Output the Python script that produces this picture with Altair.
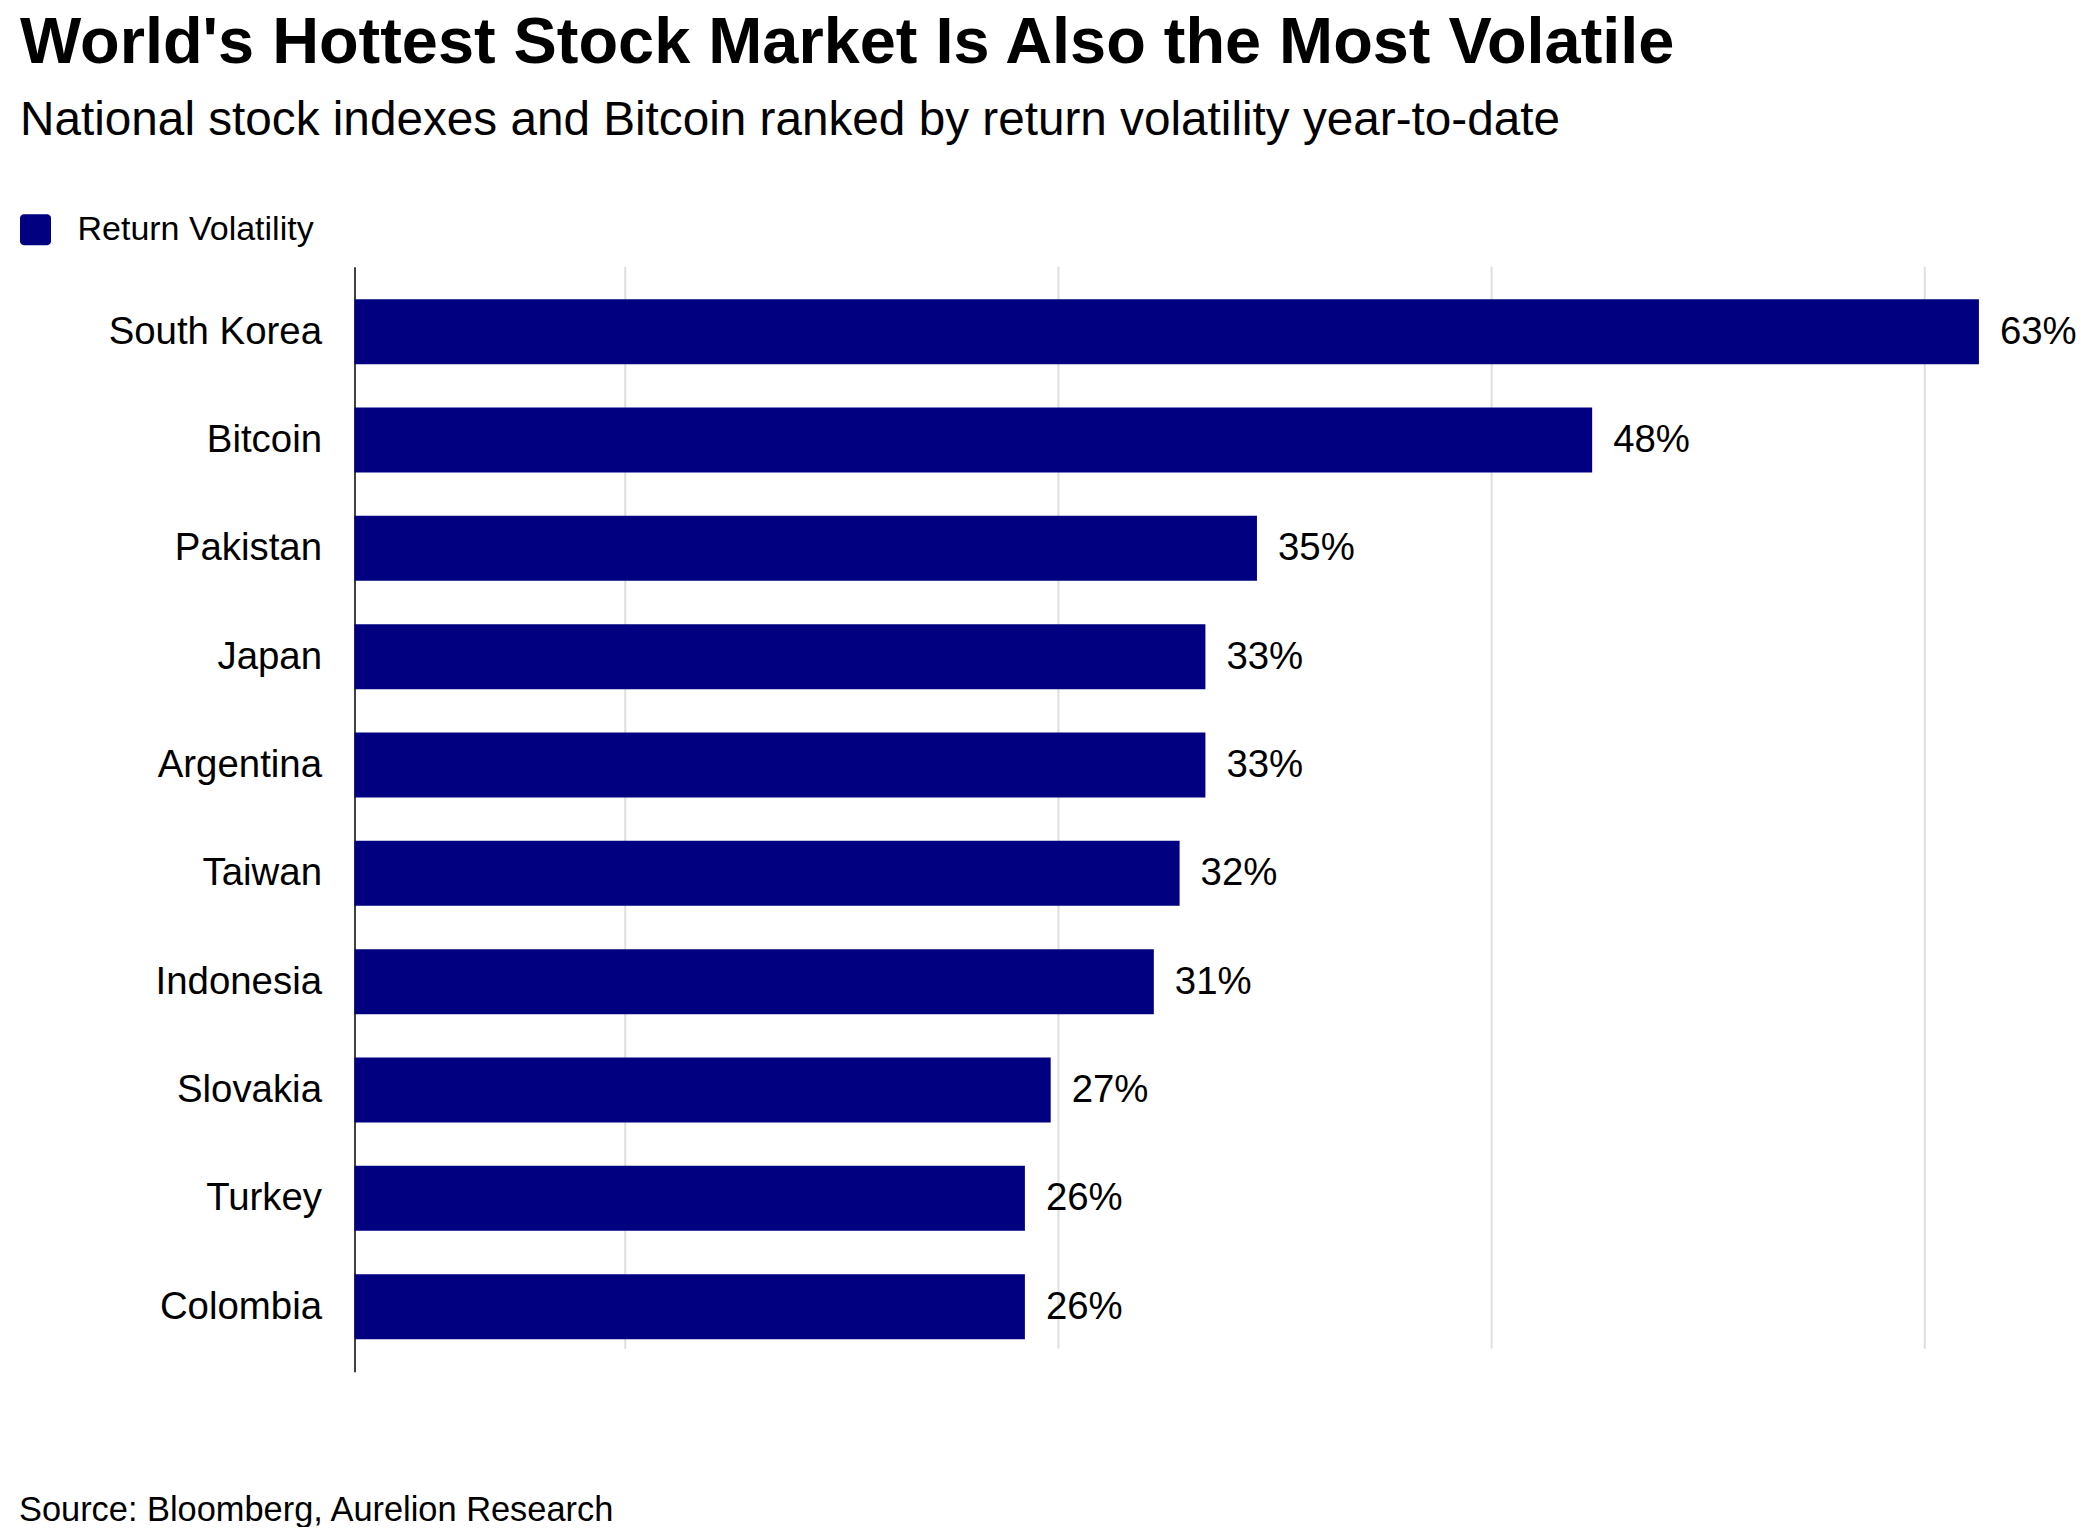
import altair as alt
import pandas as pd

# ---- data ----
categories = ["South Korea", "Bitcoin", "Pakistan", "Japan", "Argentina",
              "Taiwan", "Indonesia", "Slovakia", "Turkey", "Colombia"]
volatility = [63, 48, 35, 33, 33, 32, 31, 27, 26, 26]
series_name = "Return Volatility"
grid_values = [10.5, 27.3, 44.1, 60.9]
title_text = "World's Hottest Stock Market Is Also the Most Volatile"
subtitle_text = "National stock indexes and Bitcoin ranked by return volatility year-to-date"
source_text = ["Source: Bloomberg, Aurelion Research"]

FONT = "Liberation Sans"
NAVY = "#000080"

df = pd.DataFrame({"Market": categories, "Volatility": volatility})
df["Series"] = series_name
df["Label"] = [f"{v}%" for v in volatility]
grid_df = pd.DataFrame({"g": grid_values})
src_df = pd.DataFrame({"t": source_text})

PLOT_W = 1676
PLOT_H = 1105
x_scale = alt.Scale(domain=[0, 65], nice=False, zero=True)

y_enc = alt.Y(
    "Market:N", sort=categories,
    scale=alt.Scale(paddingInner=0.4, paddingOuter=0.3),
    axis=alt.Axis(title=None, domain=True, domainColor="black", domainWidth=1.5,
                  ticks=False, tickSize=0, grid=False, labelFont=FONT,
                  labelFontSize=38.4, labelColor="black", labelPadding=33,
                  labelLimit=0),
)

rounded_square = ("M-0.75,-1 L0.75,-1 A0.25,0.25 0 0 1 1,-0.75 L1,0.75 "
                  "A0.25,0.25 0 0 1 0.75,1 L-0.75,1 A0.25,0.25 0 0 1 -1,0.75 "
                  "L-1,-0.75 A0.25,0.25 0 0 1 -0.75,-1 Z")

grid = alt.Chart(grid_df).mark_rule(color="#dedede", strokeWidth=2).encode(
    x=alt.X("g:Q", scale=x_scale, axis=None),
    y=alt.value(0),
    y2=alt.value(1082),
)

bars = alt.Chart(df).mark_bar().encode(
    x=alt.X("Volatility:Q", scale=x_scale, axis=None),
    y=y_enc,
    color=alt.Color(
        "Series:N",
        scale=alt.Scale(domain=[series_name], range=[NAVY]),
        legend=alt.Legend(
            orient="none", legendX=-336, legendY=-54, title=None,
            symbolType=rounded_square, symbolSize=961, symbolStrokeWidth=0,
            labelFont=FONT, labelFontSize=34, labelColor="black",
            labelOffset=25, labelLimit=0, padding=0,
        ),
    ),
)

labels = alt.Chart(df).mark_text(
    align="left", baseline="middle", dx=21, font=FONT, fontSize=38.4, color="black"
).encode(
    x=alt.X("Volatility:Q", scale=x_scale, axis=None),
    y=alt.Y("Market:N", sort=categories),
    text="Label:N",
)

source = alt.Chart(src_df).mark_text(
    align="left", baseline="alphabetic", font=FONT, fontSize=34.4, color="black"
).encode(
    x=alt.value(-335.5),
    y=alt.value(1254),
    text="t:N",
)

chart = alt.layer(grid, bars, labels, source).properties(
    width=PLOT_W,
    height=PLOT_H,
    title=alt.TitleParams(
        text=title_text, subtitle=subtitle_text,
        anchor="start", frame="group", dx=-334.5,
        font=FONT, fontSize=64.9, fontWeight="bold", color="black",
        subtitleFont=FONT, subtitleFontSize=47.7, subtitleColor="black",
        subtitlePadding=20, offset=67,
    ),
    autosize=alt.AutoSizeParams(type="none"),
    padding={"left": 346.5, "top": 258.7, "right": 45, "bottom": 155},
).configure(background="white").configure_view(stroke=None, strokeWidth=0)

chart.save("out.html", embed_options={"renderer": "svg", "actions": False})
